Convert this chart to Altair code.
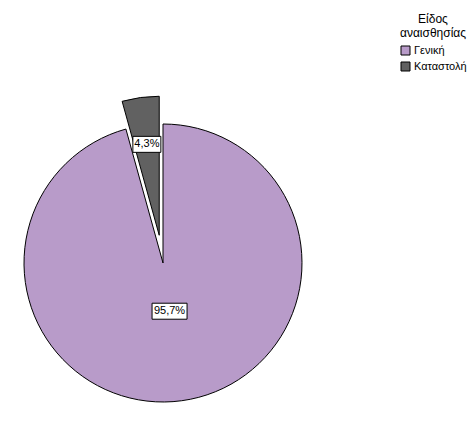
import math
import numpy as np
import pandas as pd
import altair as alt

# ---- data ----
categories = ["Γενική", "Καταστολή"]
percent = [95.7, 4.3]
colors = ["#B89BC9", "#616161"]

# ---- layout / style constants (not data) ----
W, H = 459, 409
CX, CY, R = 155, 255, 139
explode = {"Γενική": 0.0, "Καταστολή": 28 / R}
label_r = {"Γενική": 0.35, "Καταστολή": 0.66}
CHAR_W, BOX_H = 7, 16

pct = np.array(percent)
end = np.cumsum(pct)
start = end - pct
mid = start + pct / 2
ang = mid / 100 * 2 * math.pi

df = pd.DataFrame({"cat": categories, "pct": pct, "start": start, "end": end})
df["ex"] = [explode[c] for c in categories]
df["cx"] = df["ex"] * np.sin(ang)
df["cy"] = df["ex"] * np.cos(ang)
df["lr"] = [label_r[c] for c in categories]
df["lx"] = df["cx"] + df["lr"] * np.sin(ang)
df["ly"] = df["cy"] + df["lr"] * np.cos(ang)
df["label"] = [f"{v:.1f}".replace(".", ",") + "%" for v in pct]
df["bw"] = df["label"].str.len() * CHAR_W / R
df["bx1"] = df["lx"] - df["bw"] / 2
df["bx2"] = df["lx"] + df["bw"] / 2
df["by1"] = df["ly"] - BOX_H / 2 / R
df["by2"] = df["ly"] + BOX_H / 2 / R

xs = alt.Scale(domain=[-1, 1], range=[CX - R, CX + R], nice=False, zero=False)
ys = alt.Scale(domain=[-1, 1], range=[CY + R, CY - R], nice=False, zero=False)

base = alt.Chart(df)

arcs = base.mark_arc(outerRadius=R, stroke="black", strokeWidth=1).encode(
    x=alt.X("cx:Q", scale=xs, axis=None),
    y=alt.Y("cy:Q", scale=ys, axis=None),
    theta=alt.Theta("start:Q", scale=alt.Scale(domain=[0, 100], range=[0, 2 * math.pi]), stack=False),
    theta2="end:Q",
    color=alt.Color(
        "cat:N",
        scale=alt.Scale(domain=categories, range=colors),
        legend=alt.Legend(
            title=["Είδος", "αναισθησίας"],
            orient="none",
            legendX=392,
            legendY=6,
            titleFont="Liberation Sans",
            titleFontSize=12,
            titleFontWeight="normal",
            titleColor="black",
            titleAlign="center",
            titleAnchor="middle",
            titleLineHeight=14,
            titlePadding=5,
            labelFont="Liberation Sans",
            labelFontSize=11,
            labelColor="black",
            labelOffset=3,
            symbolType="square",
            symbolSize=81,
            symbolStrokeColor="black",
            symbolStrokeWidth=1,
            rowPadding=3,
        ),
    ),
)

boxes = base.mark_rect(fill="white", stroke="black", strokeWidth=1).encode(
    x=alt.X("bx1:Q", scale=xs, axis=None),
    x2="bx2:Q",
    y=alt.Y("by1:Q", scale=ys, axis=None),
    y2="by2:Q",
)

texts = base.mark_text(font="Liberation Sans", fontSize=11, color="black", baseline="middle", align="center").encode(
    x=alt.X("lx:Q", scale=xs, axis=None),
    y=alt.Y("ly:Q", scale=ys, axis=None),
    text="label:N",
)

chart = (
    alt.layer(arcs, boxes, texts)
    .properties(width=W, height=H, padding=0, autosize="none")
    .configure_view(stroke=None)
)

chart.save("out.html", embed_options={"renderer": "svg", "actions": False})
